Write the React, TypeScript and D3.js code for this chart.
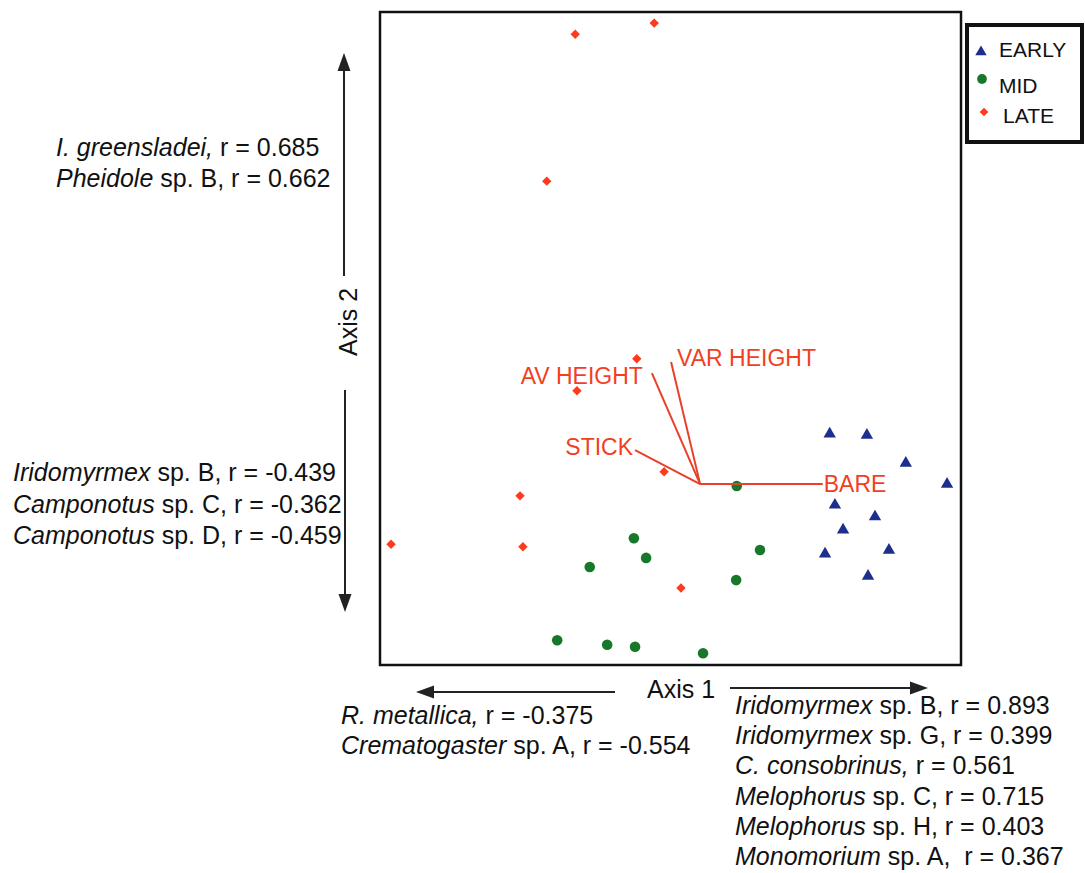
import * as d3 from "d3";
import { useEffect, useRef } from "react";

// ordination scores (arbitrary units 0..100)
const earlyX = [77.4, 83.8, 90.5, 97.6, 78.3, 85.2, 79.7, 87.6, 76.6, 84.0];
const earlyY = [35.4, 35.2, 30.9, 27.7, 24.5, 22.7, 20.7, 17.6, 17.0, 13.6];
const midX = [43.7, 45.8, 36.1, 30.5, 39.1, 43.9, 55.6, 61.4, 65.4, 61.3];
const midY = [19.4, 16.4, 15.0, 3.8, 3.1, 2.8, 1.8, 27.4, 17.6, 13.0];
const lateX = [33.6, 47.2, 28.7, 44.2, 33.9, 48.9, 24.1, 1.9, 24.6, 51.8];
const lateY = [96.6, 98.3, 74.1, 46.9, 42.0, 29.6, 25.9, 18.5, 18.1, 11.8];

// environmental vectors
const vecOrigin = [55.1, 27.7];
const vecNames = ["BARE", "VAR HEIGHT", "AV HEIGHT", "STICK"];
const vecX = [76.2, 50.1, 46.8, 43.9];
const vecY = [27.7, 46.4, 44.7, 32.9];

// species correlations along the axes [italic part, plain part]
const axis2Pos = [["I. greensladei,", " r = 0.685"], ["Pheidole", " sp. B, r = 0.662"]];
const axis2Neg = [
  ["Iridomyrmex", " sp. B, r = -0.439"],
  ["Camponotus", " sp. C, r = -0.362"],
  ["Camponotus", " sp. D, r = -0.459"],
];
const axis1Neg = [["R. metallica,", " r = -0.375"], ["Crematogaster", " sp. A, r = -0.554"]];
const axis1Pos = [
  ["Iridomyrmex", " sp. B, r = 0.893"],
  ["Iridomyrmex", " sp. G, r = 0.399"],
  ["C. consobrinus,", " r = 0.561"],
  ["Melophorus", " sp. C, r = 0.715"],
  ["Melophorus", " sp. H, r = 0.403"],
  ["Monomorium", " sp. A,  r = 0.367"],
];

const groups = ["EARLY", "MID", "LATE"];
const colors = ["#1c2f8c", "#17782b", "#ff3a1c"];

const W = 1085, H = 873;
const font = "'Liberation Sans', Arial, Helvetica, sans-serif";

export default function App() {
  const ref = useRef(null);

  useEffect(() => {
    const svg = d3.select(ref.current);
    svg.selectAll("*").remove();

    const box = { left: 380, top: 12, right: 961, bottom: 665 };
    const x = d3.scaleLinear().domain([0, 100]).range([box.left, box.right]);
    const y = d3.scaleLinear().domain([0, 100]).range([box.bottom, box.top]);

    svg.append("rect")
      .attr("x", box.left).attr("y", box.top)
      .attr("width", box.right - box.left).attr("height", box.bottom - box.top)
      .attr("fill", "none").attr("stroke", "#111").attr("stroke-width", 2.5);

    // diamond = square turned 45deg
    const sym = [d3.symbolTriangle, d3.symbolCircle, d3.symbolSquare];
    const rot = [0, 0, 45];
    const sizes = [66, 88, 44];
    const series = [
      d3.zip(earlyX, earlyY),
      d3.zip(midX, midY),
      d3.zip(lateX, lateY),
    ];

    series.forEach((pts, i) => {
      svg.append("g").selectAll("path")
        .data(pts)
        .enter()
        .append("path")
        .attr("d", d3.symbol(sym[i], sizes[i]))
        .attr("transform", d => `translate(${x(d[0])},${y(d[1])}) rotate(${rot[i]})`)
        .attr("fill", colors[i]);
    });

    // vectors
    const vec = svg.append("g");
    vecNames.forEach((n, i) => {
      vec.append("line")
        .attr("x1", x(vecOrigin[0])).attr("y1", y(vecOrigin[1]))
        .attr("x2", x(vecX[i])).attr("y2", y(vecY[i]))
        .attr("stroke", "#e8402a").attr("stroke-width", 2);
    });
    const lab = [
      { dx: 1, dy: 8, anchor: "start" },
      { dx: 6, dy: 4, anchor: "start" },
      { dx: -9, dy: 11, anchor: "end" },
      { dx: -2, dy: 5, anchor: "end" },
    ];
    vecNames.forEach((n, i) => {
      vec.append("text")
        .attr("x", x(vecX[i]) + lab[i].dx).attr("y", y(vecY[i]) + lab[i].dy)
        .attr("text-anchor", lab[i].anchor)
        .attr("font-family", font).attr("font-size", 23)
        .attr("fill", "#f2401f")
        .text(n);
    });

    // legend
    const lg = svg.append("g");
    lg.append("rect").attr("x", 967).attr("y", 25).attr("width", 115).attr("height", 117)
      .attr("fill", "white").attr("stroke", "#111").attr("stroke-width", 4);
    const lpos = [[981, 52, 999, 57], [982, 79, 999, 93], [984, 112, 1003, 123]];
    groups.forEach((g, i) => {
      lg.append("path")
        .attr("d", d3.symbol(sym[i], sizes[i] * 0.85))
        .attr("transform", `translate(${lpos[i][0]},${lpos[i][1]}) rotate(${rot[i]})`)
        .attr("fill", colors[i]);
      lg.append("text")
        .attr("x", lpos[i][2]).attr("y", lpos[i][3])
        .attr("font-family", font).attr("font-size", 21).attr("fill", "#111")
        .text(g);
    });

    // axis arrows
    const arrow = (x1, y1, x2, y2) => {
      const a = Math.atan2(y2 - y1, x2 - x1);
      const len = 18, hw = 6.5;
      const bx = x2 - len * Math.cos(a), by = y2 - len * Math.sin(a);
      svg.append("line").attr("x1", x1).attr("y1", y1).attr("x2", bx).attr("y2", by)
        .attr("stroke", "#222").attr("stroke-width", 2);
      const p = d3.path();
      p.moveTo(x2, y2);
      p.lineTo(bx + hw * Math.sin(a), by - hw * Math.cos(a));
      p.lineTo(bx - hw * Math.sin(a), by + hw * Math.cos(a));
      p.closePath();
      svg.append("path").attr("d", p.toString()).attr("fill", "#222");
    };
    arrow(344, 276, 344, 53);
    arrow(345, 390, 345, 612);
    arrow(615, 692, 416, 692);
    arrow(730, 688, 928, 688);

    svg.append("text")
      .attr("transform", "translate(357,322) rotate(-90)")
      .attr("text-anchor", "middle")
      .attr("font-family", font).attr("font-size", 25).attr("fill", "#111")
      .text("Axis 2");
    svg.append("text")
      .attr("x", 681).attr("y", 698)
      .attr("text-anchor", "middle")
      .attr("font-family", font).attr("font-size", 25).attr("fill", "#111")
      .text("Axis 1");

    // species lists
    const block = (rows, x0, y0, step) => {
      rows.forEach((r, i) => {
        const t = svg.append("text")
          .attr("x", x0).attr("y", y0 + i * step)
          .attr("font-family", font).attr("font-size", 25).attr("fill", "#111")
          .style("white-space", "pre");
        t.append("tspan").attr("font-style", "italic").text(r[0]);
        t.append("tspan").text(r[1]);
      });
    };
    block(axis2Pos, 56, 156, 31);
    block(axis2Neg, 13, 481, 31.5);
    block(axis1Neg, 341, 724, 30);
    block(axis1Pos, 735, 714, 30.2);
  }, []);

  return (
    <svg ref={ref} width={W} height={H}
      style={{ position: "absolute", left: 0, top: 0, background: "white" }} />
  );
}
